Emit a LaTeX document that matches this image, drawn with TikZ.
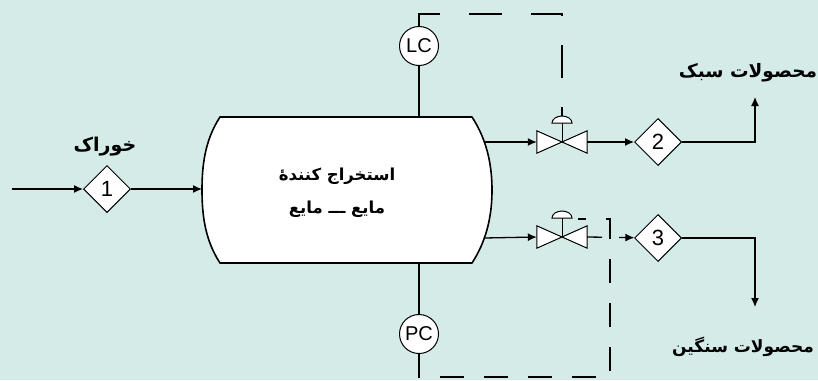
\documentclass[tikz,border=0pt]{standalone}
\usepackage{fontspec}
\setmainfont{Liberation Sans}
\newfontfamily\arabicfont[Script=Arabic]{DejaVu Sans}
\TeXXeTstate=1
\usetikzlibrary{shapes.geometric,arrows.meta}
\definecolor{bgteal}{RGB}{213,235,232}
\begin{document}
\begin{tikzpicture}[x=1pt,y=-1pt,
  proc/.style={line width=1.3pt},
  arr/.style={proc,-{Latex[length=9pt,width=8pt]}},
  ctrlA/.style={line width=1.2pt,dash pattern=on 33pt off 29pt},
  ctrlB/.style={line width=1.2pt,dash pattern=on 24pt off 20pt},
  stream/.style={diamond,draw,fill=white,line width=1pt,inner sep=0pt,
    minimum width=47pt,minimum height=47pt,font=\fontsize{22}{22}\selectfont},
  instr/.style={circle,draw,fill=white,line width=1pt,inner sep=0pt,
    minimum size=39pt,font=\fontsize{20}{20}\selectfont},
  valvebox/.style={inner sep=0pt,minimum width=50pt,minimum height=22pt},
  bowtie/.style={draw,fill=white,line width=1pt,line join=miter},
  dome/.style={draw,fill=white,line width=1pt},
  lbl/.style={align=center},
]
\fill[bgteal] (0,0) rectangle (818,380);
\useasboundingbox (0,0) rectangle (818,380);

% vessel
\draw[line width=1.6pt,fill=white,line join=round]
  (220,117) -- (472,117) .. controls (487,140) and (492,165) .. (492,190)
  .. controls (492,215) and (487,240) .. (472,263) -- (220,263)
  .. controls (205,240) and (202,215) .. (202,190)
  .. controls (202,165) and (205,140) .. (220,117) -- cycle;
\coordinate (vin) at (202,189);
\coordinate (vo1) at (484,142);
\coordinate (vo2) at (484,238);
\coordinate (vtop) at (419,117);
\coordinate (vbot) at (419,263);
\node[lbl,font=\arabicfont\bfseries\fontsize{16.5}{33}\selectfont] (vtxt) at (337,193)
  {\beginR استخراج کنندهٔ\endR\\\beginR مایع ـــ مایع\endR};

% instruments
\node[instr] (lc) at (419,46) {LC};
\node[instr] (pc) at (419,334) {PC};
\draw[proc] (lc) -- (vtop);
\draw[proc] (vbot) -- (pc);

% valves
\node[valvebox] (v1) at (562,142) {};
\node[valvebox] (v2) at (562,237) {};
\foreach \v in {v1,v2}{
  \draw[bowtie] (\v.north west) -- (\v.south east) -- (\v.north east) -- (\v.south west) -- cycle;
  \draw[line width=1pt] (\v.center) -- ([yshift=19pt]\v.center);
  \draw[dome] ([xshift=-10pt,yshift=19pt]\v.center) arc[start angle=180,end angle=0,x radius=10pt,y radius=7pt] -- cycle;
}
\coordinate (a1) at ([yshift=26pt]v1.center);
\coordinate (a2) at (578,219);

% streams
\node[stream] (s1) at (107,189) {1};
\node[stream] (s2) at (658,142) {2};
\node[stream] (s3) at (658,238) {3};

% process lines
\coordinate (feed) at (12,189);
\draw[arr] (feed) -- (s1);
\draw[arr] (s1) -- (vin);
\draw[arr] (vo1) -- (v1.west);
\draw[arr] (v1.east) -- (s2);
\draw[arr] (vo2) -- (v2.west);
\draw[arr,dash pattern=on 15pt off 17pt on 100pt] (v2.east) -- (s3);
\coordinate (top2) at (755,97);
\coordinate (bot3) at (755,307);
\draw[arr] (s2.east) -| (top2);
\draw[arr] (s3.east) -| (bot3);

% control lines
\coordinate (lct) at (419,14);
\draw[ctrlA] (lc.north) -- (lct) -| (a1);
\coordinate (pcb) at (419,377);
\coordinate (rc) at (610,377);
\coordinate (rt) at (610,219);
\draw[ctrlB] (pc.south) -- (pcb) -- (rc) -- (rt) -- (a2);

% labels
\node[lbl,font=\arabicfont\bfseries\fontsize{19}{24}\selectfont] (feedlbl) at (105,147) {\beginR خوراک\endR};
\node[lbl,font=\arabicfont\bfseries\fontsize{18.5}{22}\selectfont] (light) at (748,73) {\beginR محصولات سبک\endR};
\node[lbl,font=\arabicfont\bfseries\fontsize{17}{22}\selectfont] (heavy) at (743,347) {\beginR محصولات سنگین\endR};
\end{tikzpicture}
\end{document}
